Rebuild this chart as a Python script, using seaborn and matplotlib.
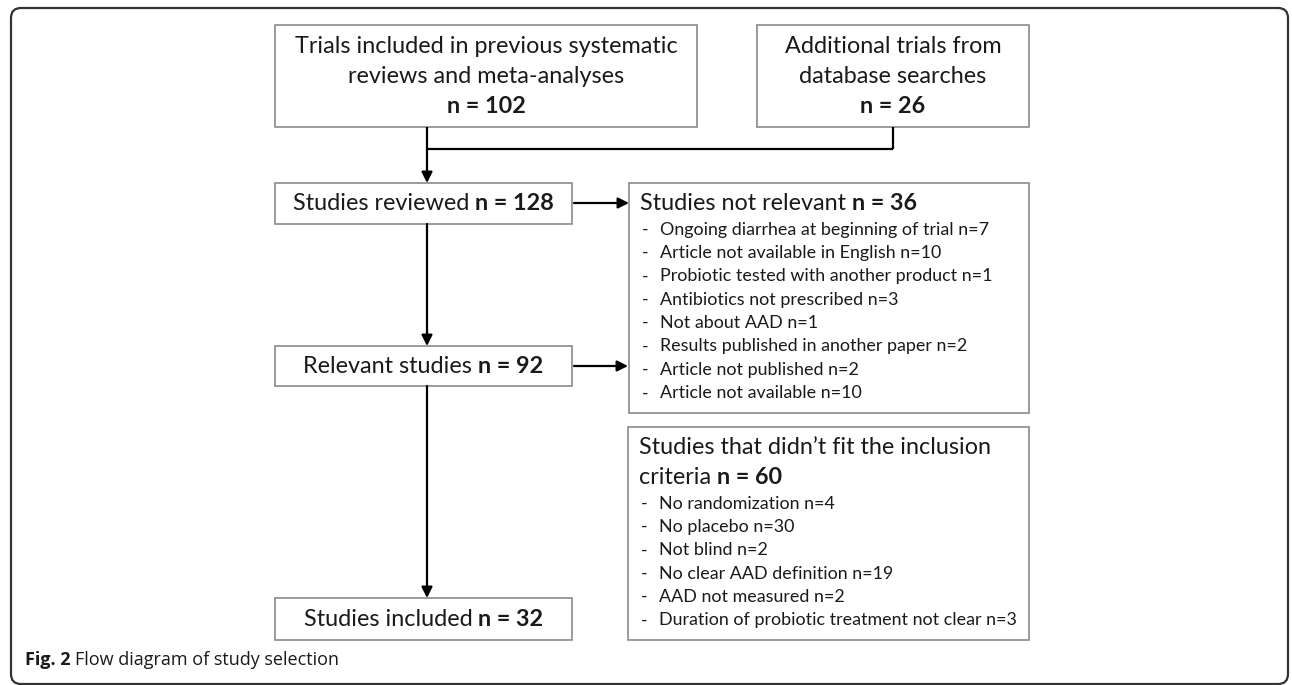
import matplotlib
matplotlib.use("Agg")
import matplotlib.pyplot as plt
import seaborn as sns
from matplotlib.patches import Rectangle, FancyBboxPatch

# ---- chart content ----
source_labels = ["Trials included in previous systematic\nreviews and meta-analyses",
                 "Additional trials from\ndatabase searches"]
source_counts = [102, 26]

stage_labels = ["Studies reviewed", "Relevant studies", "Studies included"]
stage_counts = [128, 92, 32]

excl_titles = ["Studies not relevant", "Studies that didn\u2019t fit the inclusion\ncriteria"]
excl_counts = [36, 60]

not_relevant_reasons = ["Ongoing diarrhea at beginning of trial", "Article not available in English",
                        "Probiotic tested with another product", "Antibiotics not prescribed",
                        "Not about AAD", "Results published in another paper",
                        "Article not published", "Article not available"]
not_relevant_counts = [7, 10, 1, 3, 1, 2, 2, 10]

not_fit_reasons = ["No randomization", "No placebo", "Not blind", "No clear AAD definition",
                   "AAD not measured", "Duration of probiotic treatment not clear"]
not_fit_counts = [4, 30, 2, 19, 2, 3]

caption_bold = "Fig. 2"
caption_text = "Flow diagram of study selection"

sns.set_theme(style="white")
plt.rcParams["font.family"] = ["Lato", "DejaVu Sans"]

W, H = 1292, 685
fig = plt.figure(figsize=(W / 100, H / 100), dpi=100)
ax = fig.add_axes([0, 0, 1, 1])
ax.set_xlim(0, W)
ax.set_ylim(H, 0)
ax.axis("off")
renderer = fig.canvas.get_renderer()

BOX_EC = "#8a8a8a"
TXT = "#1a1a1a"
BIG = 16.8
SMALL = 12.9


def px_width(t):
    return t.get_window_extent(renderer).width


def mixed(x, y, normal, bold, size, ha="center"):
    t1 = ax.text(0, y, normal + " ", fontsize=size, va="center", ha="left", color=TXT)
    t2 = ax.text(0, y, bold, fontsize=size, va="center", ha="left", fontweight="bold", color=TXT)
    w1, w2 = px_width(t1), px_width(t2)
    x0 = x - (w1 + w2) / 2 if ha == "center" else x
    t1.set_x(x0)
    t2.set_x(x0 + w1)


def box(x0, y0, x1, y1):
    ax.add_patch(Rectangle((x0, y0), x1 - x0, y1 - y0, fill=False, ec=BOX_EC, lw=1.2))


def arrow(x0, y0, x1, y1):
    ax.annotate("", xy=(x1, y1), xytext=(x0, y0),
                arrowprops=dict(arrowstyle="-|>", color="black", lw=1.6, mutation_scale=16,
                                shrinkA=0, shrinkB=0))


def line(xs, ys):
    ax.plot(xs, ys, color="black", lw=1.6, solid_capstyle="butt")


# outer frame
ax.add_patch(FancyBboxPatch((11, 8), 1277, 676, boxstyle="round,pad=0,rounding_size=10",
                            fill=False, ec="#333333", lw=1.6))

# source boxes
src_boxes = [(275, 25, 697, 127), (757, 25, 1029, 127)]
for (x0, y0, x1, y1), lab, n in zip(src_boxes, source_labels, source_counts):
    box(x0, y0, x1, y1)
    cx = (x0 + x1) / 2
    for i, ln in enumerate(lab.split("\n")):
        ax.text(cx, 46 + 30 * i, ln, fontsize=BIG, ha="center", va="center", color=TXT)
    ax.text(cx, 106, f"n = {n}", fontsize=BIG, ha="center", va="center", fontweight="bold",
            color=TXT)

# stage boxes
CX = 427
stage_boxes = [(275, 183, 572, 224), (275, 346, 572, 386), (275, 598, 572, 640)]
for (x0, y0, x1, y1), lab, n in zip(stage_boxes, stage_labels, stage_counts):
    box(x0, y0, x1, y1)
    mixed((x0 + x1) / 2, (y0 + y1) / 2, lab, f"n = {n}", BIG)

# connectors
line([CX, CX], [127, 149])
line([893, 893], [127, 149])
line([CX, 893], [149, 149])
arrow(CX, 149, CX, 183)
arrow(CX, 224, CX, 346)
arrow(CX, 386, CX, 598)
arrow(574, 203, 629, 203)
arrow(574, 366, 628, 366)

# exclusion boxes
excl_boxes = [(629, 183, 1029, 413), (628, 427, 1029, 640)]
reasons = [(not_relevant_reasons, not_relevant_counts), (not_fit_reasons, not_fit_counts)]
title_y = [203, 447]
for bi, ((x0, y0, x1, y1), title, n, (rs, cs)) in enumerate(
        zip(excl_boxes, excl_titles, excl_counts, reasons)):
    box(x0, y0, x1, y1)
    lines = title.split("\n")
    y = title_y[bi]
    for ln in lines[:-1]:
        ax.text(x0 + 11, y, ln, fontsize=BIG, ha="left", va="center", color=TXT)
        y += 30
    mixed(x0 + 11, y, lines[-1], f"n = {n}", BIG, ha="left")
    y += 26.5
    for r, c in zip(rs, cs):
        ax.text(x0 + 13, y, "-", fontsize=SMALL, ha="left", va="center", color=TXT)
        ax.text(x0 + 31, y, f"{r} n={c}", fontsize=SMALL, ha="left", va="center", color=TXT)
        y += 23.4

# caption
cap_font = ["Open Sans", "DejaVu Sans"]
t1 = ax.text(25, 660, caption_bold + " ", fontsize=13, fontweight="bold", va="center",
             ha="left", color=TXT, family=cap_font)
ax.text(25 + px_width(t1), 660, caption_text, fontsize=13, va="center", ha="left",
        color=TXT, family=cap_font)

fig.savefig("out.png", dpi=100)
